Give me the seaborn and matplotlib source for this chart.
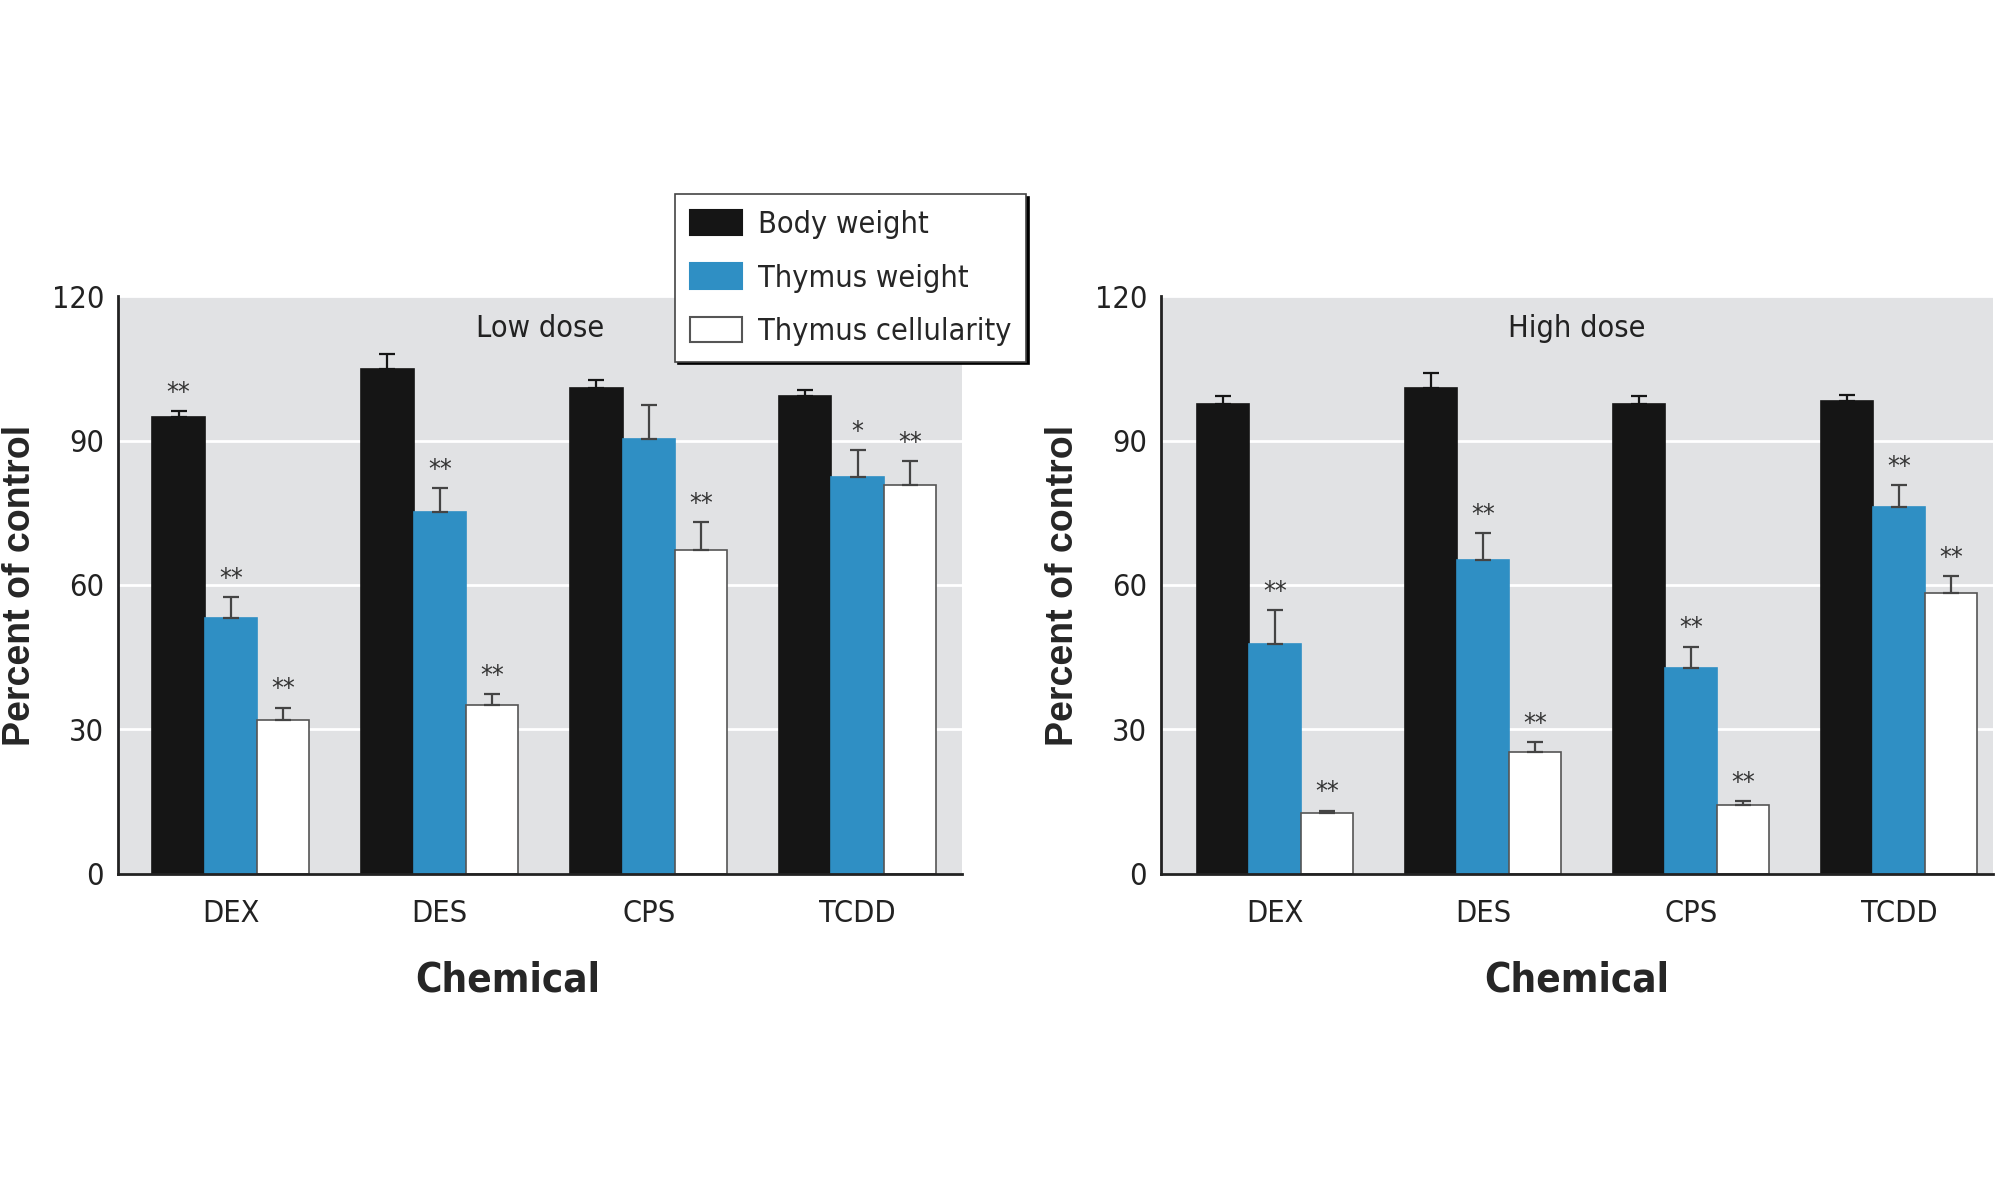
import matplotlib
matplotlib.use("Agg")
import matplotlib.pyplot as plt
import matplotlib.patches as mpatches
import pandas as pd
import seaborn as sns

# data (percent of control)
chemicals = ["DEX", "DES", "CPS", "TCDD"]
series = ["Body weight", "Thymus weight", "Thymus cellularity"]

low_body = [95.0, 105.0, 101.0, 99.3]
low_body_err = [1.2, 3.0, 1.6, 1.2]
low_thy = [53.2, 75.2, 90.4, 82.5]
low_thy_err = [4.3, 5.0, 7.0, 5.5]
low_cell = [32.0, 35.0, 67.2, 80.7]
low_cell_err = [2.5, 2.4, 5.8, 5.0]

high_body = [97.7, 101.0, 97.7, 98.3]
high_body_err = [1.6, 3.1, 1.6, 1.3]
high_thy = [47.7, 65.3, 42.7, 76.3]
high_thy_err = [7.0, 5.5, 4.5, 4.4]
high_cell = [12.6, 25.3, 14.3, 58.3]
high_cell_err = [0.5, 2.0, 0.8, 3.6]

low_stars = [["**", "", "", ""], ["**", "**", "", "*"], ["**", "**", "**", "**"]]
high_stars = [["", "", "", ""], ["**", "**", "**", "**"], ["**", "**", "**", "**"]]

colors = ["#151515", "#2f8fc4", "#ffffff"]
edges = ["#151515", "#2f8fc4", "#555555"]
errcolors = ["#151515", "#444444", "#444444"]

sns.set_theme(style="darkgrid")
plt.rcParams["font.family"] = ["DejaVu Sans"]
plt.rcParams["font.stretch"] = "condensed"


def make_df(vals):
    rows = []
    for s, v in zip(series, vals):
        for c, y in zip(chemicals, v):
            rows.append({"Chemical": c, "Series": s, "Value": y})
    return pd.DataFrame(rows)


def draw_panel(ax, vals, errs, stars, title, xlim, xlabel_x):
    df = make_df(vals)
    sns.barplot(data=df, x="Chemical", y="Value", hue="Series", order=chemicals,
                hue_order=series, palette=colors, saturation=1, width=0.75,
                errorbar=None, legend=False, ax=ax)
    bar_groups = list(ax.containers)
    for i, cont in enumerate(bar_groups):
        for j, bar in enumerate(cont):
            bar.set_edgecolor(edges[i])
            bar.set_linewidth(1.2)
            x = bar.get_x() + bar.get_width() / 2
            h = bar.get_height()
            e = errs[i][j]
            ax.errorbar(x, h, yerr=[[0], [e]], fmt="none", ecolor=errcolors[i],
                        elinewidth=1.6, capsize=6, capthick=1.6, zorder=3)
            if stars[i][j]:
                ax.annotate(stars[i][j], (x, h + e), xytext=(0, 3),
                            textcoords="offset points", ha="center", va="bottom",
                            fontsize=19, color="#333333")
    ax.set_facecolor("#e1e2e4")
    ax.grid(axis="y", color="white", linewidth=2)
    ax.grid(axis="x", visible=False)
    ax.set_ylim(0, 120)
    ax.set_yticks([0, 30, 60, 90, 120])
    ax.set_xlim(*xlim)
    ax.tick_params(axis="both", length=0, labelsize=22, colors="#222222", pad=10)
    ax.tick_params(axis="x", pad=18)
    for side in ["top", "right"]:
        ax.spines[side].set_visible(False)
    for side in ["left", "bottom"]:
        ax.spines[side].set_visible(True)
        ax.spines[side].set_color("#222222")
        ax.spines[side].set_linewidth(2)
    ax.set_ylabel("Percent of control", fontsize=27, fontweight="bold",
                  family="Liberation Sans", stretch="normal", labelpad=10)
    ax.set_xlabel("Chemical", fontsize=29, fontweight="bold", labelpad=24)
    ax.xaxis.label.set_x(xlabel_x)
    ax.text(0.5, 0.945, title, transform=ax.transAxes, ha="center", va="center",
            fontsize=22, color="#222222")


fig = plt.figure(figsize=(20, 12), dpi=100)
ax1 = fig.add_axes([0.059, 0.272, 0.422, 0.481])
ax2 = fig.add_axes([0.5805, 0.272, 0.416, 0.481])

draw_panel(ax1, [low_body, low_thy, low_cell],
           [low_body_err, low_thy_err, low_cell_err], low_stars, "Low dose",
           (-0.54, 3.5), 0.462)
draw_panel(ax2, [high_body, high_thy, high_cell],
           [high_body_err, high_thy_err, high_cell_err], high_stars, "High dose",
           (-0.55, 3.45), 0.5)

handles = [mpatches.Patch(facecolor=c, edgecolor=e, linewidth=1.5, label=s)
           for c, e, s in zip(colors, edges, series)]
leg = fig.legend(handles=handles, loc="upper left", bbox_to_anchor=(0.3375, 0.838),
                 fontsize=22, frameon=True, fancybox=False, framealpha=1,
                 facecolor="white", edgecolor="#444444",
                 shadow={"color": "black", "alpha": 1}, borderaxespad=0,
                 handlelength=1.7, handleheight=0.9, handletextpad=0.5,
                 labelspacing=0.8, borderpad=0.5)
leg.get_frame().set_linewidth(1.2)

fig.savefig("out.png", dpi=100, facecolor="white")
